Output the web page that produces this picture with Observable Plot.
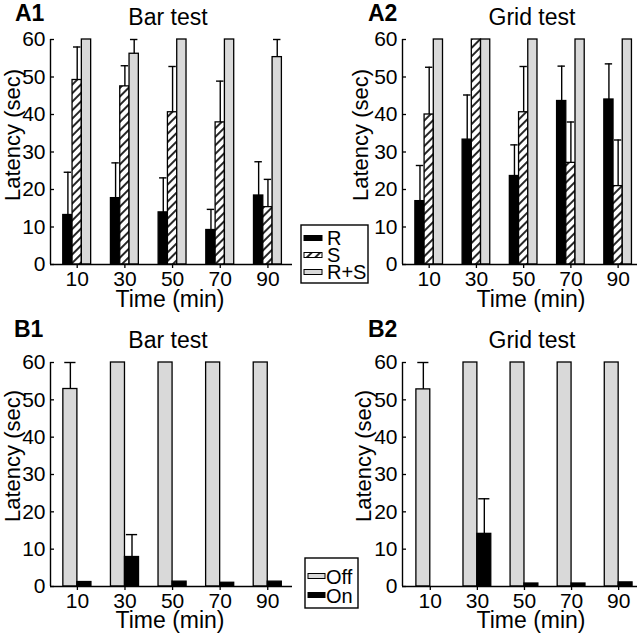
<!DOCTYPE html>
<html><head><meta charset="utf-8">
<script src="https://cdn.jsdelivr.net/npm/d3@7"></script>
<script src="https://cdn.jsdelivr.net/npm/@observablehq/plot@0.6"></script>
<style>
body{margin:0;background:#fff;}
#root{position:relative;width:640px;height:635px;overflow:hidden;background:#fff;}
.panel{position:absolute;}
</style></head><body><div id="root"></div>
<script>
// ---------- data ----------
const timeMin = [10, 30, 50, 70, 90];
const latencyTicks = [0, 10, 20, 30, 40, 50, 60];
const panelLetters = ["A1", "A2", "B1", "B2"];
const panelTitles = ["Bar test", "Grid test", "Bar test", "Grid test"];
const seriesA = ["R", "S", "R+S"];
const seriesB = ["Off", "On"];
const xLabel = "Time (min)";
const yLabel = "Latency (sec)";

// A1 – Bar test (mean and upper SEM)
const a1RMean  = [13.2, 17.7, 13.9, 9.2, 18.4];
const a1RErr   = [11.4, 9.4, 9.2, 5.5, 9.0];
const a1SMean  = [49.2, 47.5, 40.6, 37.9, 15.3];
const a1SErr   = [8.8, 5.5, 12.2, 11.0, 7.4];
const a1RSMean = [60, 56.2, 60, 60, 55.3];
const a1RSErr  = [0, 3.8, 0, 0, 4.7];
// A2 – Grid test
const a2RMean  = [16.9, 33.3, 23.6, 43.6, 44.0];
const a2RErr   = [9.5, 11.9, 8.3, 9.3, 9.5];
const a2SMean  = [40.0, 60, 40.6, 27.1, 20.9];
const a2SErr   = [12.6, 0, 12.2, 10.9, 12.3];
const a2RSMean = [60, 60, 60, 60, 60];
const a2RSErr  = [0, 0, 0, 0, 0];
// B1 – Bar test
const b1OffMean = [52.9, 60, 60, 60, 60];
const b1OffErr  = [7.1, 0, 0, 0, 0];
const b1OnMean  = [1.2, 7.9, 1.3, 1.0, 1.3];
const b1OnErr   = [0, 6.0, 0, 0, 0];
// B2 – Grid test
const b2OffMean = [52.8, 60, 60, 60, 60];
const b2OffErr  = [7.2, 0, 0, 0, 0];
const b2OnMean  = [0, 14.1, 0.8, 0.8, 1.1];
const b2OnErr   = [0, 9.4, 0, 0, 0];

// ---------- styling ----------
const FONT = "'Liberation Sans', Arial, Helvetica, sans-serif";
const GREY = "#d9d9d9";
const HATCH = "url(#hatchPat)";

function rows(key, means, errs) {
  return timeMin.map((t, i) => ({time: t, series: key, value: means[i], err: errs[i]}));
}

const root = d3.select("#root");

function panel(cfg) {
  const {left, top, width, height, mt, mb, ml, mr, xDomain, groups, barW} = cfg;
  const capHalf = 0.4 * barW;
  const marks = [];
  for (const g of groups) {
    const data = g.rows;
    const cx = d => d.time + g.offset * barW;
    marks.push(Plot.rectY(data.filter(d => d.value > 0), {
      x1: d => cx(d) - barW / 2, x2: d => cx(d) + barW / 2,
      y1: 0, y2: "value", fill: g.fill, stroke: "black", strokeWidth: 1.3
    }));
    const e = data.filter(d => d.err > 0);
    marks.push(Plot.ruleX(e, {x: cx, y1: "value", y2: d => d.value + d.err, stroke: "black", strokeWidth: 1.4}));
    marks.push(Plot.ruleY(e, {y: d => d.value + d.err, x1: d => cx(d) - capHalf, x2: d => cx(d) + capHalf, stroke: "black", strokeWidth: 1.4}));
  }
  marks.push(Plot.ruleX([xDomain[0]], {stroke: "black", strokeWidth: 1.4}));
  marks.push(Plot.ruleY([0], {stroke: "black", strokeWidth: 1.4}));
  marks.push(Plot.axisX(timeMin, {tickSize: 4, tickPadding: 3, fontSize: 21, label: null, strokeWidth: 1.3}));
  marks.push(Plot.axisY(latencyTicks, {tickSize: -4, tickPadding: 9, fontSize: 21, label: null, strokeWidth: 1.3}));
  const svg = Plot.plot({
    width, height, marginTop: mt, marginBottom: mb, marginLeft: ml, marginRight: mr,
    x: {type: "linear", domain: xDomain},
    y: {domain: [0, 60]},
    style: {fontFamily: FONT, fontSize: "21px", color: "black", background: "transparent", overflow: "visible"},
    marks
  });
  const div = root.append("div").attr("class", "panel").style("left", left + "px").style("top", top + "px");
  div.node().appendChild(svg);
}

const wA = 3.9, wB = 5.9;
const groupsA = (r, s, rs) => [
  {rows: r, offset: -1, fill: "black"},
  {rows: s, offset: 0, fill: HATCH},
  {rows: rs, offset: 1, fill: GREY}
];
const groupsB = (off, on) => [
  {rows: off, offset: -0.5, fill: GREY},
  {rows: on, offset: 0.5, fill: "black"}
];

panel({left: 0, top: 0, width: 320, height: 300, mt: 39, mb: 36, ml: 50, mr: 28, xDomain: [-1.2, 100.3], barW: wA,
  groups: groupsA(rows("R", a1RMean, a1RErr), rows("S", a1SMean, a1SErr), rows("R+S", a1RSMean, a1RSErr))});
panel({left: 320, top: 0, width: 320, height: 300, mt: 39, mb: 36, ml: 82, mr: 3, xDomain: [-1.3, 98.2], barW: wA,
  groups: groupsA(rows("R", a2RMean, a2RErr), rows("S", a2SMean, a2SErr), rows("R+S", a2RSMean, a2RSErr))});
panel({left: 0, top: 320, width: 320, height: 300, mt: 42, mb: 34, ml: 50, mr: 28, xDomain: [-1.3, 100.4], barW: wB,
  groups: groupsB(rows("Off", b1OffMean, b1OffErr), rows("On", b1OnMean, b1OnErr))});
panel({left: 320, top: 320, width: 320, height: 300, mt: 42, mb: 34, ml: 82, mr: 3, xDomain: [-1.8, 98], barW: wB,
  groups: groupsB(rows("Off", b2OffMean, b2OffErr), rows("On", b2OnMean, b2OnErr))});

// ---------- overlay: texts, legends, hatch pattern ----------
const ov = root.append("svg").attr("width", 640).attr("height", 635)
  .style("position", "absolute").style("left", "0px").style("top", "0px")
  .style("font-family", FONT).style("pointer-events", "none");
const pat = ov.append("defs").append("pattern").attr("id", "hatchPat")
  .attr("patternUnits", "userSpaceOnUse").attr("width", 6).attr("height", 6)
  .attr("patternTransform", "rotate(45)");
pat.append("rect").attr("width", 6).attr("height", 6).attr("fill", "white");
pat.append("line").attr("x1", 3).attr("y1", 0).attr("x2", 3).attr("y2", 6).attr("stroke", "black").attr("stroke-width", 1.7);

const letterPos = [[15, 21], [368, 21], [14, 337], [368, 337]];
const titlePos = [[168, 25], [532, 25], [168, 348], [532, 348]];
const xLabPos = [[170, 307], [531, 307], [170, 628], [531, 628]];
const yLabPos = [[20, 135], [368, 135], [20, 456], [371, 456]];
panelLetters.forEach((t, i) => ov.append("text").attr("x", letterPos[i][0]).attr("y", letterPos[i][1])
  .attr("font-size", 23).attr("font-weight", "bold").text(t));
panelTitles.forEach((t, i) => ov.append("text").attr("x", titlePos[i][0]).attr("y", titlePos[i][1])
  .attr("font-size", 23).attr("text-anchor", "middle").text(t));
xLabPos.forEach(p => ov.append("text").attr("x", p[0]).attr("y", p[1])
  .attr("font-size", 23).attr("text-anchor", "middle").text(xLabel));
yLabPos.forEach(p => ov.append("text").attr("transform", `translate(${p[0]},${p[1]}) rotate(-90)`)
  .attr("font-size", 22).attr("text-anchor", "middle").text(yLabel));

// legend A
const fillsA = ["black", HATCH, GREY];
ov.append("rect").attr("x", 301).attr("y", 225).attr("width", 67).attr("height", 58)
  .attr("fill", "white").attr("stroke", "black").attr("stroke-width", 1.4);
seriesA.forEach((s, i) => {
  const cy = 238 + i * 17;
  ov.append("rect").attr("x", 304).attr("y", cy - 2.5).attr("width", 18).attr("height", 5)
    .attr("fill", fillsA[i]).attr("stroke", "black").attr("stroke-width", 1);
  ov.append("text").attr("x", 327).attr("y", cy + 7).attr("font-size", 20).text(s);
});
// legend B
const fillsB = [GREY, "black"];
ov.append("rect").attr("x", 305).attr("y", 558).attr("width", 53).attr("height", 50)
  .attr("fill", "white").attr("stroke", "black").attr("stroke-width", 1.4);
seriesB.forEach((s, i) => {
  const cy = 576 + i * 19;
  ov.append("rect").attr("x", 308).attr("y", cy - 2.5).attr("width", 17).attr("height", 5)
    .attr("fill", fillsB[i]).attr("stroke", "black").attr("stroke-width", 1);
  ov.append("text").attr("x", 326).attr("y", cy + 7.5).attr("font-size", 20).text(s);
});
</script>
</body></html>
